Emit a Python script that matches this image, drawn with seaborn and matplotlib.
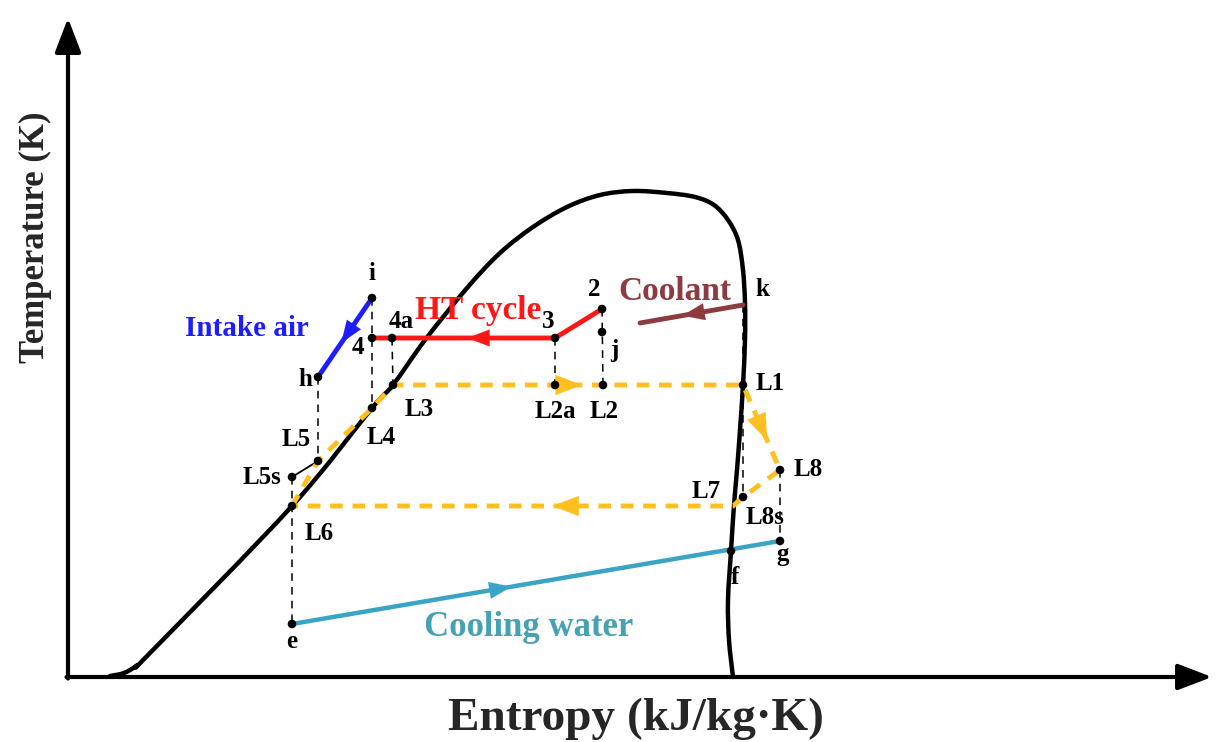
import numpy as np
import matplotlib
matplotlib.use("Agg")
import matplotlib.pyplot as plt
from matplotlib.path import Path
from matplotlib.patches import PathPatch
import seaborn as sns

# ---- saturation dome anchors (entropy s, temperature T in schematic units) ----
dome_s = [110, 124, 136, 150, 292, 372, 393, 425, 467, 500, 533, 567, 600, 633, 667,
          695, 714, 728, 738, 743, 745, 745, 743, 740, 737, 734, 731, 728, 729, 733]
dome_T = [66, 69, 76, 89, 236, 334, 357, 402, 454, 489, 515, 535, 547, 551, 549,
          545, 537, 522, 502, 472, 439, 402, 357, 312, 272, 237, 191, 142, 102, 65]

# ---- state points ----
state_names = ["i", "h", "4", "4a", "3", "2", "j", "k", "L1", "L2", "L2a", "L3",
               "L4", "L5", "L5s", "L6", "L7", "L8", "L8s", "f", "g", "e"]
state_s = [372, 318, 372, 392, 555, 602, 602, 743, 743, 603, 555, 393,
           372, 318, 292, 292, 733, 780, 743, 731, 780, 292]
state_T = [444, 365, 404, 404, 404, 433, 410, 437, 357, 357, 357, 357,
           334, 281, 265, 236, 236, 272, 245, 191, 201, 118]

# coolant stream end (leaves k towards lower entropy)
coolant_end = (640, 419)

# axis frame extent
axis_origin = (68, 65)
axis_s_end = 1212
axis_T_end = 724

P = {n: (s, t) for n, s, t in zip(state_names, state_s, state_T)}

sns.set_theme(style="white")
plt.rcParams["font.family"] = ["Liberation Serif", "DejaVu Serif"]
plt.rcParams["font.weight"] = "bold"

fig = plt.figure(figsize=(12.21, 7.42), dpi=100)
ax = fig.add_axes([0, 0, 1, 1])
ax.set_xlim(0, 1221)
ax.set_ylim(0, 742)
ax.axis("off")
fig.patch.set_facecolor("white")

# axes with arrow heads
for tip, tail in [((axis_origin[0], axis_T_end), (axis_origin[0], axis_origin[1] - 1.5)),
                  ((axis_s_end, axis_origin[1]), (axis_origin[0] - 1.5, axis_origin[1]))]:
    ax.annotate("", xy=tip, xytext=tail,
                arrowprops=dict(arrowstyle="-|>,head_length=1.1,head_width=0.42", lw=3,
                                color="black", shrinkA=0, shrinkB=0, mutation_scale=19))


def smooth_path(xs, ys):
    """Cubic Bezier path through the anchors (Catmull-Rom tangents)."""
    pts = np.column_stack([xs, ys]).astype(float)
    n = len(pts)
    verts = [pts[0]]
    codes = [Path.MOVETO]
    for i in range(n - 1):
        p0 = pts[i - 1] if i > 0 else pts[i]
        p1, p2 = pts[i], pts[i + 1]
        p3 = pts[i + 2] if i + 2 < n else pts[i + 1]
        verts += [p1 + (p2 - p0) / 6, p2 - (p3 - p1) / 6, p2]
        codes += [Path.CURVE4] * 3
    return Path(verts, codes)


# saturation dome
ax.add_patch(PathPatch(smooth_path(dome_s, dome_T), fill=False, edgecolor="black",
                       lw=3.2, capstyle="round", joinstyle="round"))


def seg(a, b, **kw):
    ax.plot([a[0], b[0]], [a[1], b[1]], **kw)


def mid_arrow(a, b, frac, color, scale=16):
    a = np.asarray(a, float)
    b = np.asarray(b, float)
    tip = a + (b - a) * frac
    d = (b - a) / np.hypot(*(b - a))
    tail = tip - d * 12
    ax.annotate("", xy=tip, xytext=tail,
                arrowprops=dict(arrowstyle="-|>,head_length=1.0,head_width=0.38", color=color,
                                lw=0.1, shrinkA=0, shrinkB=0, mutation_scale=scale))


thin = dict(color="black", lw=1.1, ls=(0, (5, 4)))

# projection lines
seg(P["i"], P["L4"], **thin)
seg(P["4a"], P["L3"], **thin)
seg(P["h"], P["L5"], **thin)
seg(P["L5s"], P["e"], **thin)
seg(P["3"], P["L2a"], **thin)
seg(P["2"], P["L2"], **thin)
seg(P["k"], P["L8s"], **thin)
seg(P["L8"], P["g"], **thin)
seg(P["L5s"], P["L5"], color="black", lw=1.3)

# ORC working fluid loop (dashed gold)
gold = "#ffbf1f"
gdash = dict(color=gold, lw=3.5, ls=(0, (2.6, 2.0)), dash_capstyle="butt")
loop = ["L6", "L5", "L4", "L3", "L1", "L8", "L8s", "L7", "L6"]
ax.plot([P[n][0] for n in loop], [P[n][1] for n in loop], **gdash)
mid_arrow(P["L3"], P["L1"], 0.54, gold, 19)
mid_arrow(P["L1"], P["L8"], 0.65, gold, 19)
mid_arrow(P["L7"], P["L6"], 0.41, gold, 19)

# intake air
blue = "#1d1dff"
seg(P["i"], P["h"], color=blue, lw=3.5, solid_capstyle="round")
mid_arrow(P["i"], P["h"], 0.57, blue)

# HT cycle
red = "#ff1616"
ax.plot([P["2"][0], P["3"][0], P["4"][0]], [P["2"][1], P["3"][1], P["4"][1]], color=red, lw=3.5)
mid_arrow(P["3"], P["4"], 0.48, red)

# coolant
brown = "#8d3b40"
seg(P["k"], coolant_end, color=brown, lw=3.5)
mid_arrow(P["k"], coolant_end, 0.59, brown)

# cooling water
teal = "#3aa4c4"
seg(P["e"], P["g"], color=teal, lw=3.2)
mid_arrow(P["e"], P["g"], 0.45, teal)

# state points
dots = ["i", "h", "4", "4a", "3", "2", "j", "L1", "L2", "L2a", "L3", "L4", "L5", "L5s",
        "L6", "L8", "L8s", "f", "g", "e"]
sns.scatterplot(x=[P[n][0] for n in dots], y=[P[n][1] for n in dots], color="black",
                s=38, edgecolor="none", ax=ax, zorder=5)

# point labels
label_pos = {"i": (372, 468), "h": (305, 362), "4": (358, 394), "4a": (401, 420),
             "3": (548, 420), "2": (594, 452), "j": (614, 391), "k": (762, 452),
             "L1": (770, 359), "L2": (604, 331), "L2a": (555, 331), "L3": (419, 333),
             "L4": (381, 304), "L5": (296, 302), "L5s": (262, 264), "L6": (319, 209),
             "L7": (706, 250), "L8": (808, 272), "L8s": (765, 225), "f": (735, 164),
             "g": (783, 187), "e": (292, 101)}
for n, (x, y) in label_pos.items():
    ax.text(x, y, n, fontsize=18, fontweight="bold", ha="center", va="center", color="black")

# stream names
ax.text(247, 414, "Intake air", fontsize=21, fontweight="bold", color=blue, ha="center", va="center")
ax.text(478, 432, "HT cycle", fontsize=24, fontweight="bold", color=red, ha="center", va="center")
ax.text(675, 450, "Coolant", fontsize=24, fontweight="bold", color=brown, ha="center", va="center")
ax.text(529, 114, "Cooling water", fontsize=25, fontweight="bold", color="#46a1b3",
        ha="center", va="center")

# axis titles
ax.text(35, 505, "Temperature (K)", fontsize=25, fontweight="bold", rotation=90,
        ha="center", va="center")
ax.text(636, 12, "Entropy (kJ/kg·K)", fontsize=34, fontweight="bold", ha="center", va="baseline")

fig.savefig("out.png", dpi=100, facecolor="white")
